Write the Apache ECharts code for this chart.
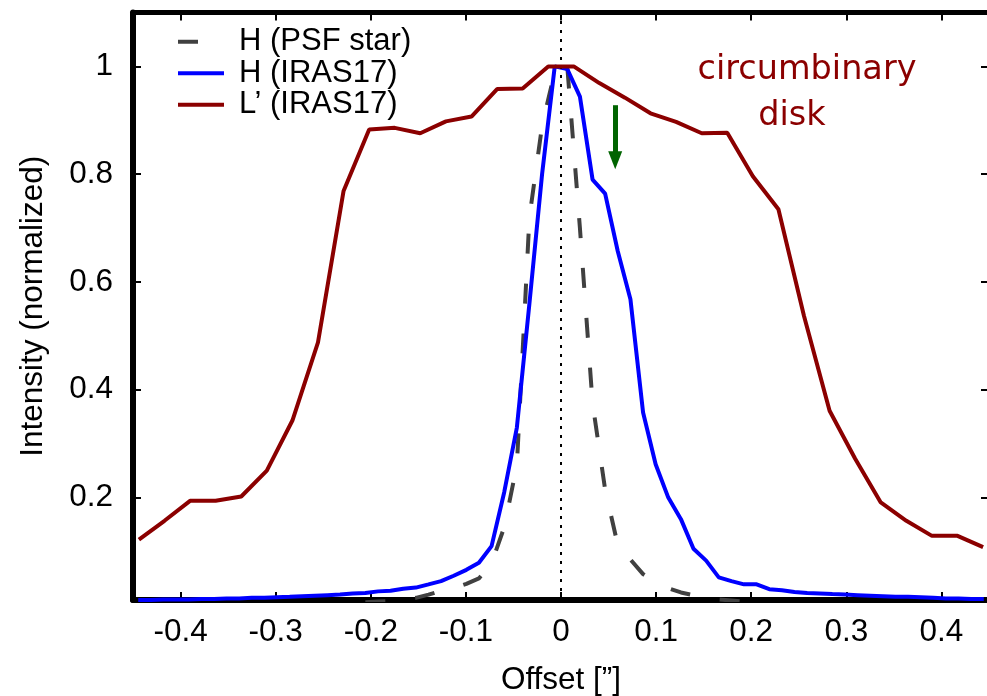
<!DOCTYPE html>
<html>
<head>
<meta charset="utf-8">
<script src="https://cdn.jsdelivr.net/npm/echarts@6/dist/echarts.min.js"></script>
<style>html,body{margin:0;padding:0;background:#fff}#c{width:987px;height:696px}</style>
</head>
<body>
<div id="c"></div>
<script>
// L' (IRAS17) profile
const lpX = [-0.4438,-0.4169,-0.39,-0.3631,-0.3362,-0.3093,-0.2824,-0.2555,-0.2286,-0.2017,-0.1748,-0.148,-0.121,-0.0941,-0.0672,-0.0403,-0.0134,0.0134,0.0403,0.0672,0.0941,0.121,0.148,0.1748,0.2017,0.2286,0.2555,0.2824,0.3093,0.3362,0.3631,0.39,0.4169,0.4438];
const lpY = [0.122,0.157,0.194,0.194,0.202,0.25,0.343,0.488,0.769,0.883,0.886,0.876,0.898,0.907,0.958,0.959,1.0,1.0,0.969,0.942,0.913,0.897,0.876,0.877,0.796,0.735,0.537,0.361,0.272,0.191,0.157,0.129,0.129,0.108];
// H (IRAS17) profile
const hX = [-0.4445,-0.4313,-0.418,-0.4047,-0.3915,-0.3782,-0.3649,-0.3517,-0.3384,-0.3251,-0.3119,-0.2986,-0.2853,-0.2721,-0.2588,-0.2455,-0.2323,-0.219,-0.2057,-0.1924,-0.1792,-0.1659,-0.1526,-0.1393,-0.1261,-0.1128,-0.0995,-0.0863,-0.073,-0.0597,-0.0464,-0.0332,-0.0199,-0.0066,0.0066,0.0199,0.0332,0.0464,0.0597,0.073,0.0863,0.0995,0.1128,0.1261,0.1393,0.1526,0.1659,0.1792,0.1924,0.2057,0.219,0.2323,0.2455,0.2588,0.2721,0.2853,0.2986,0.3119,0.3251,0.3384,0.3517,0.3649,0.3782,0.3915,0.4047,0.418,0.4313,0.4445];
const hY = [0.010,0.010,0.011,0.011,0.011,0.012,0.012,0.013,0.013,0.014,0.014,0.015,0.016,0.017,0.018,0.019,0.020,0.022,0.023,0.026,0.027,0.031,0.033,0.039,0.045,0.055,0.066,0.079,0.11,0.21,0.33,0.56,0.80,1.0,0.995,0.944,0.79,0.764,0.657,0.568,0.358,0.262,0.2,0.16,0.105,0.083,0.052,0.045,0.039,0.039,0.030,0.028,0.025,0.023,0.022,0.021,0.020,0.019,0.018,0.017,0.016,0.016,0.015,0.014,0.013,0.013,0.012,0.012];
// H (PSF star) profile
const psfX = [-0.2057,-0.1924,-0.1792,-0.1659,-0.1526,-0.1393,-0.1261,-0.1128,-0.0995,-0.0863,-0.073,-0.0597,-0.0464,-0.0332,-0.0199,-0.0066,0.0066,0.0199,0.0332,0.0464,0.0597,0.073,0.0863,0.0995,0.1128,0.1261,0.1393,0.1526,0.1659,0.1792,0.1924,0.2057];
const psfY = [0.006,0.007,0.008,0.011,0.014,0.02,0.027,0.032,0.04,0.05,0.078,0.145,0.26,0.72,0.89,0.99,1.0,0.70,0.375,0.215,0.112,0.085,0.058,0.043,0.032,0.024,0.019,0.014,0.011,0.009,0.007,0.006];
// axis ticks
const xTicks = [-0.4,-0.3,-0.2,-0.1,0,0.1,0.2,0.3,0.4];
const yTicks = [0.2,0.4,0.6,0.8,1];
// annotation
const arrowX = 0.057, arrowTop = 0.928, arrowHead = 0.826;

const pairs = (xs, ys) => xs.map((x, i) => [x, ys[i]]);
const FONT = 'Liberation Sans';
const FS = 31.5;
const chart = echarts.init(document.getElementById('c'), null, {renderer: 'canvas'});

const tickStyle = {show: true, inside: true, length: 8, lineStyle: {color: '#000', width: 2}};
chart.setOption({
  animation: false,
  backgroundColor: '#fff',
  grid: {left: 133, top: 12.5, width: 856, height: 587.5, containLabel: false, outerBoundsMode: 'none'},
  legend: {
    orient: 'vertical', left: 171, top: 21, itemWidth: 46, itemHeight: 14, itemGap: 0,
    data: ['H (PSF star)', 'H (IRAS17)', 'L\u2019 (IRAS17)'],
    itemStyle: {opacity: 0, borderWidth: 0},
    lineStyle: {width: 4},
    textStyle: {fontFamily: FONT, fontSize: 31, color: '#000', lineHeight: 31.5, padding: [0, 0, 0, 10]},
    selectedMode: false
  },
  xAxis: [{
    type: 'value', min: -0.45, max: 0.45, position: 'bottom',
    name: 'Offset [\u201D]', nameLocation: 'middle', nameGap: 64,
    nameTextStyle: {fontFamily: FONT, fontSize: FS, color: '#000'},
    axisLine: {show: true, onZero: false, lineStyle: {color: '#000', width: 6}},
    axisTick: Object.assign({customValues: xTicks}, tickStyle),
    axisLabel: {customValues: xTicks, margin: 16, fontFamily: FONT, fontSize: FS, color: '#000',
      formatter: v => String(Math.round(v * 10) / 10)},
    splitLine: {show: false}
  }, {
    type: 'value', min: -0.45, max: 0.45, position: 'top',
    axisLine: {show: true, onZero: false, lineStyle: {color: '#000', width: 5}},
    axisTick: Object.assign({customValues: xTicks}, tickStyle),
    axisLabel: {show: false}, splitLine: {show: false}
  }],
  yAxis: [{
    type: 'value', min: 0.01, max: 1.1, position: 'left',
    name: 'Intensity (normalized)', nameLocation: 'middle', nameGap: 84, nameRotate: 90,
    nameTextStyle: {fontFamily: FONT, fontSize: FS, color: '#000'},
    axisLine: {show: true, onZero: false, lineStyle: {color: '#000', width: 6}},
    axisTick: Object.assign({customValues: yTicks}, tickStyle),
    axisLabel: {customValues: yTicks, margin: 20, fontFamily: FONT, fontSize: FS, color: '#000',
      formatter: v => String(Math.round(v * 10) / 10)},
    splitLine: {show: false}
  }, {
    type: 'value', min: 0.01, max: 1.1, position: 'right',
    axisLine: {show: true, onZero: false, lineStyle: {color: '#000', width: 5}},
    axisTick: Object.assign({customValues: yTicks}, tickStyle),
    axisLabel: {show: false}, splitLine: {show: false}
  }],
  series: [{
    name: 'H (PSF star)', type: 'line', data: pairs(psfX, psfY), symbol: 'none', showSymbol: false,
    lineStyle: {color: '#404040', width: 4, type: [20, 30], cap: 'butt'}, itemStyle: {color: '#404040'}, z: 3
  }, {
    name: 'H (IRAS17)', type: 'line', data: pairs(hX, hY), symbol: 'none', showSymbol: false,
    lineStyle: {color: '#0000ff', width: 4}, itemStyle: {color: '#0000ff'}, z: 4
  }, {
    name: 'L\u2019 (IRAS17)', type: 'line', data: pairs(lpX, lpY), symbol: 'none', showSymbol: false,
    lineStyle: {color: '#8b0000', width: 4}, itemStyle: {color: '#8b0000'}, z: 5
  }, {
    name: 'annot', type: 'line', data: [], symbol: 'none', silent: true, z: 2,
    markLine: {
      silent: true, animation: false, symbol: ['none', 'none'],
      label: {show: false},
      lineStyle: {color: '#000', width: 2, type: [3, 6]},
      data: [{xAxis: 0}]
    }
  }, {
    name: 'arrow', type: 'line', data: [], symbol: 'none', silent: true, z: 6,
    markLine: {
      silent: true, animation: false, symbol: ['none', 'triangle'], symbolSize: [14, 18],
      label: {show: false},
      lineStyle: {color: '#006400', width: 5, type: 'solid'},
      data: [[{coord: [arrowX, arrowTop]}, {coord: [arrowX, arrowHead]}]]
    }
  }],
  graphic: [
    {type: 'text', x: 807, y: 70, style: {text: 'circumbinary', fontFamily: 'DejaVu Sans', fontSize: 33.5, fill: '#8b0000', align: 'center', verticalAlign: 'middle'}},
    {type: 'text', x: 792, y: 116, style: {text: 'disk', fontFamily: 'DejaVu Sans', fontSize: 33.5, fill: '#8b0000', align: 'center', verticalAlign: 'middle'}}
  ]
});
</script>
</body>
</html>
